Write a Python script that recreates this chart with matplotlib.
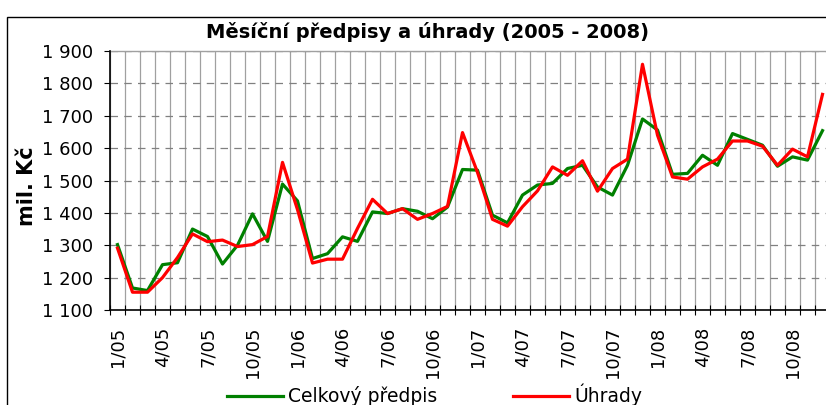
import matplotlib
matplotlib.use("Agg")
import matplotlib.pyplot as plt
from matplotlib.ticker import FixedLocator, FuncFormatter
import numpy as np

months = [f"{m}/{y:02d}" for y in (5, 6, 7, 8) for m in range(1, 13)]

predpis = [1302, 1168, 1160, 1240, 1246, 1350, 1327, 1242, 1300, 1397, 1312, 1489,
           1437, 1259, 1274, 1326, 1312, 1403, 1398, 1413, 1405, 1382, 1418, 1534,
           1532, 1393, 1369, 1455, 1486, 1491, 1537, 1547, 1480, 1455, 1547, 1690,
           1656, 1519, 1522, 1578, 1547, 1645, 1627, 1609, 1544, 1573, 1563, 1654]

uhrady = [1291, 1155, 1155, 1200, 1262, 1335, 1311, 1316, 1296, 1302, 1327, 1556,
          1410, 1245, 1257, 1257, 1352, 1442, 1398, 1413, 1380, 1398, 1420, 1648,
          1525, 1380, 1359, 1419, 1468, 1542, 1516, 1561, 1467, 1537, 1566, 1859,
          1640, 1511, 1504, 1542, 1566, 1622, 1622, 1606, 1547, 1597, 1573, 1766]

title = "Měsíční předpisy a úhrady (2005 - 2008)"
ylabel = "mil. Kč"
series_names = ["Celkový předpis", "Úhrady"]

plt.rcParams['font.family'] = ['DejaVu Sans']

W, H = 826, 405
fig = plt.figure(figsize=(W / 100, H / 100), dpi=100)

# outer chart frame
fig.patches.append(plt.Rectangle((7 / W, -0.1), 1.2, 1 - 17 / H + 0.1,
                                 transform=fig.transFigure, fill=False,
                                 edgecolor='black', linewidth=1.0))

left, right, top, bottom = 110, 830, 51, 310
ax = fig.add_axes([left / W, 1 - bottom / H, (right - left) / W, (bottom - top) / H])

x = np.arange(len(months))
ax.plot(x, predpis, color='#008000', linewidth=2.3, label=series_names[0])
ax.plot(x, uhrady, color='#FF0000', linewidth=2.3, label=series_names[1])

ax.set_xlim(-0.5, len(months) - 0.5)
ax.set_ylim(1100, 1900)
ax.set_yticks(np.arange(1100, 1901, 100))
ax.yaxis.set_major_formatter(FuncFormatter(lambda v, p: f"{int(v):,}".replace(",", " ")))

label_pos = [i for i in range(len(months)) if i % 3 == 0]
ax.set_xticks(label_pos)
ax.set_xticklabels([months[i] for i in label_pos], rotation=90, fontsize=13)
ax.xaxis.set_minor_locator(FixedLocator(np.arange(-0.5, len(months), 1.0)))
ax.tick_params(axis='x', which='major', length=0, pad=12)
ax.tick_params(axis='x', which='minor', direction='inout', length=6.5, width=0.8)
ax.tick_params(axis='y', which='major', direction='out', length=4.5, width=0.8, labelsize=13, pad=8)

ax.grid(axis='y', which='major', linestyle=(0, (6, 5)), color='#808080', linewidth=0.9)
ax.grid(axis='x', which='minor', linestyle='-', color='#a0a0a0', linewidth=0.9)
ax.set_axisbelow(True)

for s in ('top', 'right'):
    ax.spines[s].set_visible(False)
ax.spines['left'].set_linewidth(1.2)
ax.spines['bottom'].set_linewidth(1.2)
ax.plot([-0.5, len(months) - 0.5], [1900, 1900], color='#a0a0a0', linewidth=1.0, clip_on=False, zorder=1)

fig.text(428 / W, 1 - 32 / H, title, ha='center', va='center', fontsize=14, fontweight='bold')
fig.text(27 / W, 1 - 186 / H, ylabel, ha='center', va='center', rotation=90, fontsize=15, fontweight='bold')

fig.legend(loc='upper left', bbox_to_anchor=(227 / W, 1 - 384 / H), ncol=2, frameon=False,
           fontsize=13.5, handlelength=3.0, handletextpad=0.27, columnspacing=4.0,
           borderaxespad=0, borderpad=0)

fig.savefig("out.png", dpi=100)
